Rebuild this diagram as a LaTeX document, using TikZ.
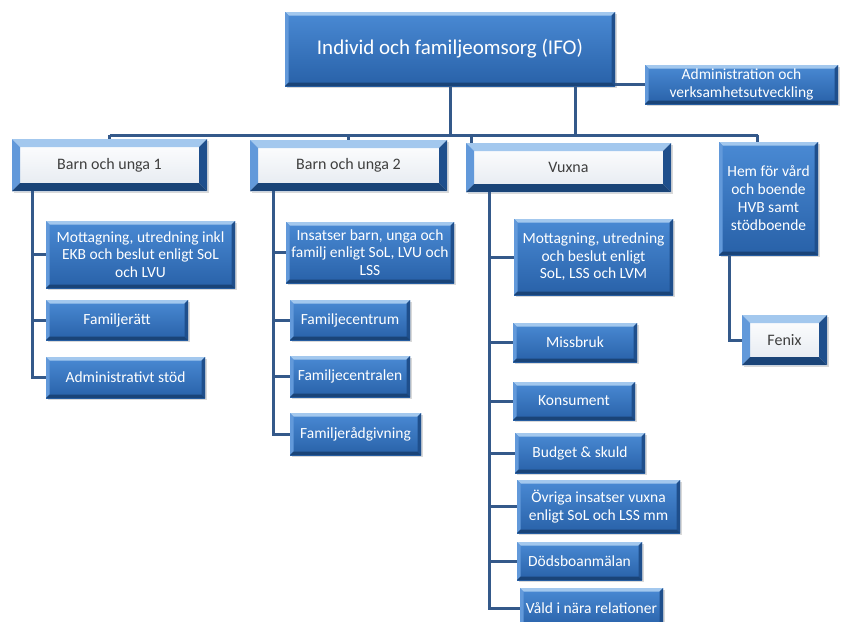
\documentclass[tikz,border=0pt]{standalone}
\usepackage{fontspec}
\setmainfont{Carlito}
\usepackage{tikz}
\usetikzlibrary{shadows}
\definecolor{linkblue}{HTML}{34598A}
\definecolor{boxtop}{HTML}{4A8AD4}
\definecolor{boxbot}{HTML}{2861A8}
\definecolor{bvtop}{HTML}{A3C8EE}
\definecolor{bvleft}{HTML}{6299DA}
\definecolor{bvright}{HTML}{1F4F8C}
\definecolor{bvbot}{HTML}{1A4478}
\definecolor{deptbot}{HTML}{E4E9F0}
\definecolor{deptgray}{HTML}{3F3F3F}
\def\ppb{path picture bounding box}
\tikzset{bevel/.style={path picture={
    \fill[bvtop] (\ppb.north west) -- (\ppb.north east) -- ([shift={(-#1,-#1)}]\ppb.north east) -- ([shift={(#1,-#1)}]\ppb.north west) -- cycle;
    \fill[bvleft] (\ppb.north west) -- ([shift={(#1,-#1)}]\ppb.north west) -- ([shift={(#1,#1)}]\ppb.south west) -- (\ppb.south west) -- cycle;
    \fill[bvright] (\ppb.north east) -- (\ppb.south east) -- ([shift={(-#1,#1)}]\ppb.south east) -- ([shift={(-#1,-#1)}]\ppb.north east) -- cycle;
    \fill[bvbot] (\ppb.south west) -- (\ppb.south east) -- ([shift={(-#1,#1)}]\ppb.south east) -- ([shift={(#1,#1)}]\ppb.south west) -- cycle;
  }}}
\tikzset{unit/.style={rectangle, inner sep=2pt, top color=boxtop, bottom color=boxbot, bevel=3.5pt, text=white, align=center, font=\fontsize{15.5}{17.5}\selectfont, drop shadow={shadow xshift=2pt, shadow yshift=-2pt, opacity=.3}}}
\tikzset{dept/.style={unit, top color=white, bottom color=deptbot, bevel=8pt, text=deptgray, font=\fontsize{16}{18}\selectfont}}
\tikzset{link/.style={draw=linkblue, line width=3pt}}

\begin{document}
\begin{tikzpicture}[x=1pt,y=-1pt]
  \useasboundingbox (0,0) rectangle (843,621);
  \node[unit, minimum width=330, minimum height=74, font=\fontsize{21}{24}\selectfont] (ifo) at (450,49) {Individ och familjeomsorg (IFO)};
  \node[unit, minimum width=193, minimum height=39] (adm) at (741.5,84.5) {Administration och\\verksamhetsutveckling};
  \foreach \name/\x/\y/\w/\h/\txt in {
    bu1/109.5/165/195/52/{Barn och unga 1},
    bu2/348.5/165.5/197/51/{Barn och unga 2},
    vux/568.5/167.5/205/49/{Vuxna},
    fenix/784.5/340/85/50/{Fenix}%
  } {
    \node[dept, minimum width=\w, minimum height=\h] (\name) at (\x,\y) {\txt};
  }
  \node[unit, minimum width=99, minimum height=113, font=\fontsize{15.5}{18}\selectfont] (hem) at (768.5,198.5) {Hem för vård\\och boende\\HVB samt\\stödboende};
  \foreach \name/\x/\y/\w/\h/\txt in {
    b1a/140.5/254.5/189/67/{Mottagning, utredning inkl\\EKB och beslut enligt SoL\\och LVU},
    b1b/117/320/142/40/{Familjerätt},
    b1c/125.5/377.5/159/41/{Administrativt stöd},
    b2a/370/252.5/168/61/{Insatser barn, unga och\\familj enligt SoL, LVU och\\LSS},
    b2b/350/320/120/40/{Familjecentrum},
    b2c/350/376.5/120/41/{Familjecentralen},
    b2d/355.5/434/131/42/{Familjerådgivning},
    v1/593.5/257/159/76/{Mottagning, utredning\\och beslut enligt\\SoL, LSS och LVM},
    v2/575/342.5/124/39/{Missbruk},
    v3/574/401/122/38/{Konsument},
    v4/580/453/130/40/{Budget \& skuld},
    v5/598.5/506.5/163/53/{Övriga insatser vuxna\\enligt SoL och LSS mm},
    v6/579.5/561/125/38/{Dödsboanmälan},
    v7/591.5/608/143/40/{Våld i nära relationer}%
  } {
    \node[unit, minimum width=\w, minimum height=\h] (\name) at (\x,\y) {\txt};
  }
  % connectors
  \coordinate (bus) at (0,135);
  \coordinate (ifo2) at ([xshift=-40pt]ifo.south east);
  \coordinate (vd) at ([xshift=6pt]vux.north west);
  \coordinate (hd) at ([xshift=39pt]hem.north west);
  \draw[link] (ifo.south) -- (ifo.south |- bus);
  \draw[link] (ifo2) -- (ifo2 |- bus);
  \draw[link] (adm.west -| ifo.east) -- (adm.west);
  \draw[link] (bu1.north |- bus) -- (hd |- bus);
  \draw[link] (bu1.north |- bus) -- (bu1.north);
  \draw[link] (bu2.north |- bus) -- (bu2.north);
  \draw[link] (vd |- bus) -- (vd);
  \draw[link] (hd |- bus) -- (hd);
  \coordinate (t1) at ([xshift=21pt]bu1.south west);
  \coordinate (t2) at ([xshift=24pt]bu2.south west);
  \coordinate (t3) at ([xshift=24pt]vux.south west);
  \coordinate (t4) at ([xshift=11pt]hem.south west);
  \foreach \c in {b1a,b1b,b1c} \draw[link] (t1) |- (\c.west);
  \foreach \c in {b2a,b2b,b2c,b2d} \draw[link] (t2) |- (\c.west);
  \foreach \c in {v1,v2,v3,v4,v5,v6,v7} \draw[link] (t3) |- (\c.west);
  \draw[link] (t4) |- (fenix.west);
\end{tikzpicture}
\end{document}
